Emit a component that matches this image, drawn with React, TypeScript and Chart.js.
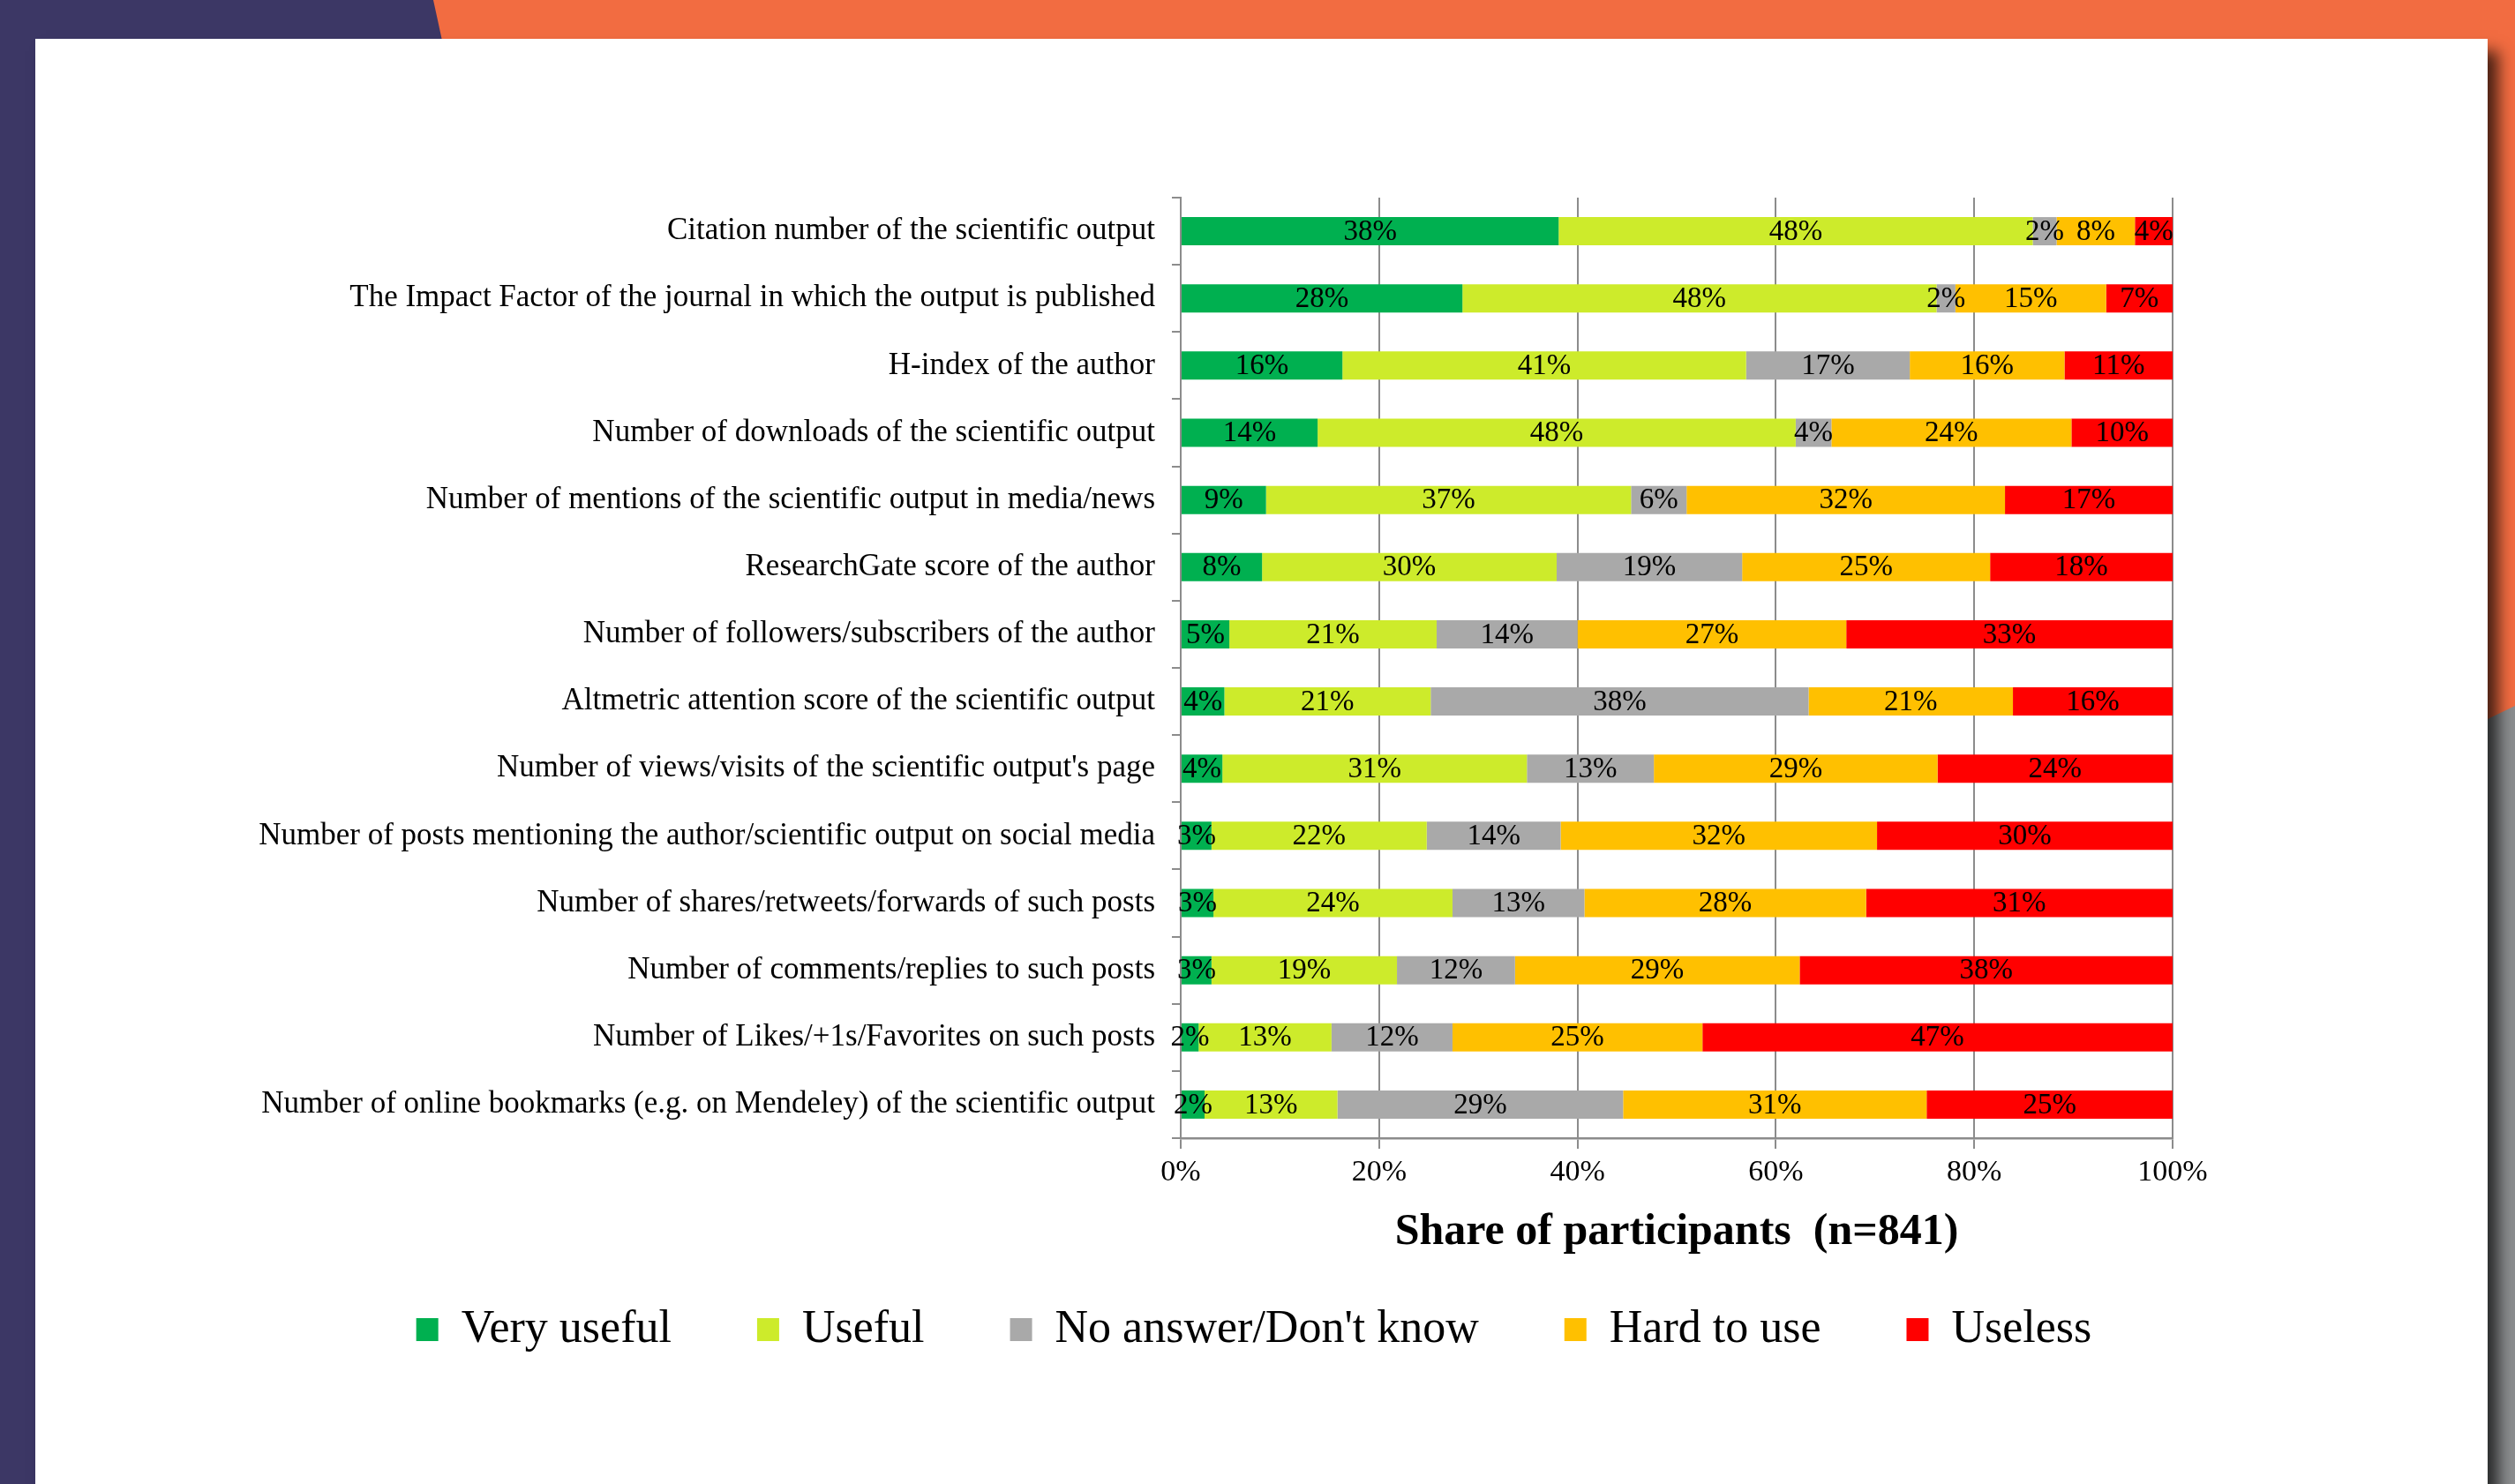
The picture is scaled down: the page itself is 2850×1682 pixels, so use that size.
import React, { useEffect, useRef } from "react";
import { Chart, registerables } from "chart.js";

Chart.register(...registerables);

const categories = [
  "Citation number of the scientific output",
  "The Impact Factor of the journal in which the output is published",
  "H-index of the author",
  "Number of downloads of the scientific output",
  "Number of mentions of the scientific output in media/news",
  "ResearchGate score of the author",
  "Number of followers/subscribers of the author",
  "Altmetric attention score of the scientific output",
  "Number of views/visits of the scientific output's page",
  "Number of posts mentioning the author/scientific output on social media",
  "Number of shares/retweets/forwards of such posts",
  "Number of comments/replies to such posts",
  "Number of Likes/+1s/Favorites on such posts",
  "Number of online bookmarks (e.g. on Mendeley) of the scientific output",
];

const seriesNames = ["Very useful", "Useful", "No answer/Don't know", "Hard to use", "Useless"];
const veryUseful = [38.1, 28.4, 16.3, 13.8, 8.6, 8.2, 4.9, 4.4, 4.2, 3.1, 3.3, 3.1, 1.8, 2.4];
const useful = [47.8, 47.8, 40.7, 48.2, 36.8, 29.7, 20.9, 20.8, 30.7, 21.7, 24.1, 18.7, 13.4, 13.4];
const noAnswer = [2.4, 1.9, 16.5, 3.6, 5.6, 18.7, 14.2, 38.1, 12.8, 13.5, 13.3, 11.9, 12.2, 28.8];
const hardToUse = [7.9, 15.2, 15.6, 24.2, 32.1, 25.0, 27.1, 20.6, 28.6, 31.9, 28.4, 28.7, 25.2, 30.6];
const useless = [3.8, 6.7, 10.9, 10.2, 16.9, 18.4, 32.9, 16.1, 23.7, 29.8, 30.9, 37.6, 47.4, 24.8];
const xTickValues = [0, 20, 40, 60, 80, 100];
const axisTitle = "Share of participants  (n=841)";

const colors = ["#00b050", "#cdeb2b", "#a9a9a9", "#ffc000", "#ff0000"];
const FONT = '"Liberation Serif", "Times New Roman", serif';
const LEGEND_SHIFT = 70;

const valueLabels = {
  id: "valueLabels",
  afterDatasetsDraw(chart: any) {
    const ctx = chart.ctx;
    ctx.save();
    ctx.font = `33px ${FONT}`;
    ctx.fillStyle = "#000";
    ctx.textAlign = "center";
    ctx.textBaseline = "middle";
    chart.data.datasets.forEach((ds: any, i: number) => {
      const meta = chart.getDatasetMeta(i);
      meta.data.forEach((el: any, j: number) => {
        const v = ds.data[j];
        const p = el.getCenterPoint();
        ctx.fillText(Math.round(v) + "%", p.x, p.y + 1);
      });
    });
    ctx.restore();
  },
};

const legendShift = {
  id: "legendShift",
  afterLayout(chart: any) {
    const lg = chart.legend;
    if (lg) {
      lg.left += LEGEND_SHIFT;
      lg.right += LEGEND_SHIFT;
    }
  },
};

export default function App() {
  const canvasRef = useRef<HTMLCanvasElement | null>(null);

  useEffect(() => {
    document.body.style.margin = "0";
    document.body.style.overflow = "hidden";
    const values = [veryUseful, useful, noAnswer, hardToUse, useless];
    const chart = new Chart(canvasRef.current as HTMLCanvasElement, {
      type: "bar",
      data: {
        labels: categories,
        datasets: seriesNames.map((name, i) => ({
          label: name,
          data: values[i],
          backgroundColor: colors[i],
          borderWidth: 0,
          barPercentage: 0.42,
          categoryPercentage: 1,
        })),
      },
      options: {
        indexAxis: "y",
        animation: false,
        responsive: true,
        maintainAspectRatio: false,
        devicePixelRatio: 1,
        layout: { padding: { left: 200, right: 357, top: 180, bottom: 139 } },
        font: { family: FONT },
        plugins: {
          tooltip: { enabled: false },
          legend: {
            position: "bottom",
            labels: {
              boxWidth: 25,
              boxHeight: 26,
              padding: 97,
              color: "#000",
              font: { family: FONT, size: 52 },
            },
          },
        },
        scales: {
          x: {
            stacked: true,
            min: 0,
            max: 100,
            afterBuildTicks: (scale: any) => {
              scale.ticks = xTickValues.map((v) => ({ value: v }));
            },
            afterFit: (scale: any) => {
              scale.height = 94;
            },
            ticks: {
              callback: (v: any) => v + "%",
              color: "#000",
              padding: 7,
              font: { family: FONT, size: 34 },
            },
            grid: {
              color: "#8c8c8c",
              lineWidth: 2,
              tickLength: 12,
            },
            border: { display: true, color: "#8c8c8c", width: 2.5 },
            title: {
              display: true,
              text: axisTitle,
              color: "#000",
              font: { family: FONT, size: 50, weight: "bold" },
              padding: { top: 0, bottom: -43 },
            },
          },
          y: {
            stacked: true,
            afterFit: (scale: any) => {
              scale.width = 1098;
            },
            ticks: {
              color: "#000",
              padding: 19,
              font: { family: FONT, size: 35 },
            },
            grid: {
              drawOnChartArea: false,
              color: "#8c8c8c",
              lineWidth: 2,
              tickLength: 10,
              offset: true,
            },
            border: { display: true, color: "#8c8c8c", width: 2 },
          },
        },
      } as any,
      plugins: [valueLabels, legendShift],
    });
    return () => chart.destroy();
  }, []);

  return (
    <div
      style={{
        position: "absolute",
        left: 0,
        top: 0,
        width: 2850,
        height: 1682,
        overflow: "hidden",
        background: "#3c3765",
      }}
    >
      <div
        style={{
          position: "absolute",
          left: 2700,
          top: 0,
          width: 150,
          height: 1682,
          background: "#8b8d8f",
        }}
      />
      <div
        style={{
          position: "absolute",
          left: 0,
          top: 0,
          width: 2850,
          height: 1682,
          background: "#f26c41",
          clipPath: "polygon(491px 0px, 2850px 0px, 2850px 800px, 2819px 815px, 600px 500px)",
        }}
      />
      <div
        style={{
          position: "absolute",
          left: 40,
          top: 44,
          width: 2779,
          height: 1700,
          background: "#ffffff",
          boxShadow: "12px 14px 16px rgba(0,0,0,0.7)",
        }}
      >
        <div style={{ position: "relative", width: 2779, height: 1638 }}>
          <canvas ref={canvasRef} />
        </div>
      </div>
    </div>
  );
}
